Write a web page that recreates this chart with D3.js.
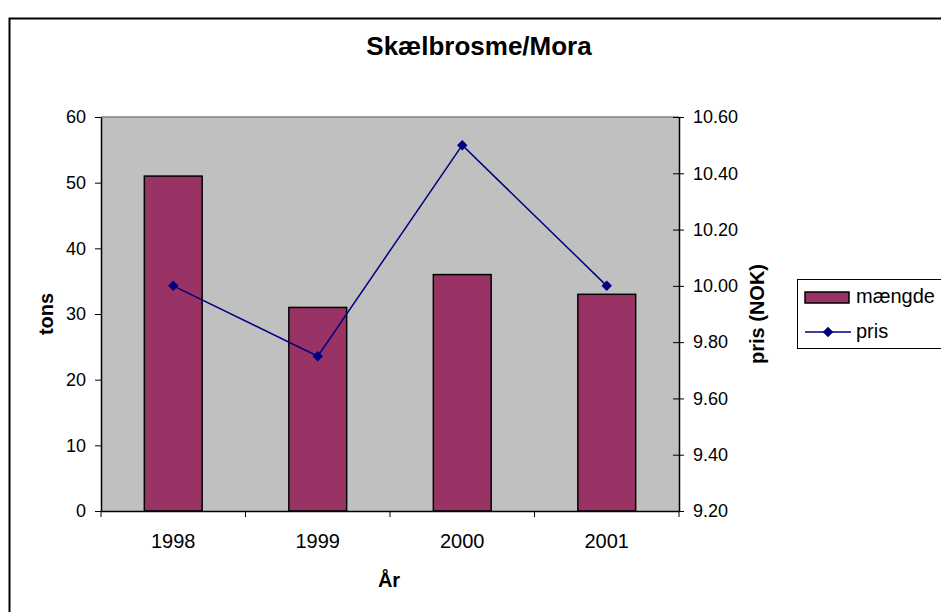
<!DOCTYPE html>
<html>
<head>
<meta charset="utf-8">
<script src="https://cdn.jsdelivr.net/npm/d3@7"></script>
<style>
  body { margin: 0; background: #fff; }
  svg { font-family: "Liberation Sans", Arial, sans-serif; }
</style>
</head>
<body>
<svg id="chart"></svg>
<script>
var width = 941,
  height = 612;

// data
var years = ['1998', '1999', '2000', '2001'];
var maengde = [51, 31, 36, 33];
var pris = [10.00, 9.75, 10.50, 10.00];
var tonsTicks = [0, 10, 20, 30, 40, 50, 60];
var prisTicks = [9.2, 9.4, 9.6, 9.8, 10.0, 10.2, 10.4, 10.6];

var plot = { left: 101, top: 117, right: 679, bottom: 511 };

var svg = d3.select('#chart')
  .attr('width', width)
  .attr('height', height);

// outer frame
svg.append('rect')
  .attr('x', 9.5)
  .attr('y', 18.5)
  .attr('width', 1000)
  .attr('height', 700)
  .attr('fill', '#fff')
  .attr('stroke', '#000')
  .attr('stroke-width', 2);

var x = d3.scaleBand()
  .domain(years)
  .range([plot.left, plot.right])
  .paddingInner(0.6)
  .paddingOuter(0.3);

var xCat = d3.scaleBand()
  .domain(years)
  .range([plot.left, plot.right]);

var yL = d3.scaleLinear()
  .domain([0, 60])
  .range([plot.bottom, plot.top]);

var yR = d3.scaleLinear()
  .domain([9.2, 10.6])
  .range([plot.bottom, plot.top]);

// plot area
svg.append('rect')
  .attr('x', plot.left)
  .attr('y', plot.top)
  .attr('width', plot.right - plot.left)
  .attr('height', plot.bottom - plot.top)
  .attr('fill', '#c0c0c0');

svg.append('line')
  .attr('x1', plot.left).attr('x2', plot.right)
  .attr('y1', plot.top).attr('y2', plot.top)
  .attr('stroke', '#808080')
  .attr('stroke-width', 1.5);

// bars
svg.append('g')
  .selectAll('rect')
  .data(maengde)
  .enter().append('rect')
  .attr('x', function(d, i) { return x(years[i]); })
  .attr('y', function(d) { return yL(d); })
  .attr('width', x.bandwidth())
  .attr('height', function(d) { return yL(0) - yL(d); })
  .attr('fill', '#993366')
  .attr('stroke', '#000')
  .attr('stroke-width', 1.5);

// left axis
var gL = svg.append('g')
  .attr('transform', 'translate(' + plot.left + ',0)')
  .call(d3.axisLeft(yL).tickValues(tonsTicks).tickSize(6).tickPadding(9).tickSizeOuter(0));

// right axis
var gR = svg.append('g')
  .attr('transform', 'translate(' + plot.right + ',0)')
  .call(d3.axisRight(yR).tickValues(prisTicks).tickSize(5).tickPadding(9).tickSizeOuter(0)
    .tickFormat(d3.format('.2f')));
gR.selectAll('.tick line').attr('x1', -6);

// bottom axis
var gB = svg.append('g')
  .attr('transform', 'translate(0,' + plot.bottom + ')')
  .call(d3.axisBottom(xCat).tickSize(0).tickPadding(23).tickSizeOuter(0));
gB.selectAll('.tick line').remove();
gB.selectAll('.sep')
  .data(d3.range(years.length + 1))
  .enter().append('line')
  .attr('class', 'sep')
  .attr('x1', function(i) { return plot.left + i * xCat.step(); })
  .attr('x2', function(i) { return plot.left + i * xCat.step(); })
  .attr('y1', 0)
  .attr('y2', 6)
  .attr('stroke', '#000');

[gL, gR, gB].forEach(function(g) {
  g.selectAll('text')
    .attr('font-size', 18)
    .attr('font-family', '"Liberation Sans", Arial, sans-serif')
    .attr('fill', '#000');
  g.select('.domain').attr('stroke', '#000').attr('stroke-width', 1.5);
});
gB.selectAll('text').attr('font-size', 20);

// price line
var line = d3.line()
  .x(function(d, i) { return xCat(years[i]) + xCat.bandwidth() / 2; })
  .y(function(d) { return yR(d); });

svg.append('path')
  .datum(pris)
  .attr('d', line)
  .attr('fill', 'none')
  .attr('stroke', '#000080')
  .attr('stroke-width', 1.5);

var diamond = d3.symbol().type(d3.symbolDiamond2).size(70);

svg.append('g')
  .selectAll('path')
  .data(pris)
  .enter().append('path')
  .attr('d', diamond)
  .attr('transform', function(d, i) {
    return 'translate(' + (xCat(years[i]) + xCat.bandwidth() / 2) + ',' + yR(d) + ')';
  })
  .attr('fill', '#000080');

// titles
svg.append('text')
  .attr('x', 479)
  .attr('y', 55)
  .attr('text-anchor', 'middle')
  .attr('font-size', 26)
  .attr('font-weight', 'bold')
  .text('Skælbrosme/Mora');

svg.append('text')
  .attr('x', 389)
  .attr('y', 587)
  .attr('text-anchor', 'middle')
  .attr('font-size', 20)
  .attr('font-weight', 'bold')
  .text('År');

svg.append('text')
  .attr('transform', 'translate(53,' + ((plot.top + plot.bottom) / 2) + ') rotate(-90)')
  .attr('text-anchor', 'middle')
  .attr('font-size', 20)
  .attr('font-weight', 'bold')
  .text('tons');

svg.append('text')
  .attr('transform', 'translate(764,' + ((plot.top + plot.bottom) / 2) + ') rotate(-90)')
  .attr('text-anchor', 'middle')
  .attr('font-size', 20)
  .attr('font-weight', 'bold')
  .text('pris (NOK)');

// legend
var lg = svg.append('g');
lg.append('rect')
  .attr('x', 797.5)
  .attr('y', 279.5)
  .attr('width', 200)
  .attr('height', 69)
  .attr('fill', '#fff')
  .attr('stroke', '#000')
  .attr('stroke-width', 1);

lg.append('rect')
  .attr('x', 805)
  .attr('y', 292)
  .attr('width', 44)
  .attr('height', 11)
  .attr('fill', '#993366')
  .attr('stroke', '#000')
  .attr('stroke-width', 1.5);

lg.append('text')
  .attr('x', 856)
  .attr('y', 303)
  .attr('font-size', 20)
  .text('mængde');

lg.append('line')
  .attr('x1', 805).attr('x2', 851)
  .attr('y1', 332).attr('y2', 332)
  .attr('stroke', '#000080')
  .attr('stroke-width', 1.5);

lg.append('path')
  .attr('d', diamond)
  .attr('transform', 'translate(828,332)')
  .attr('fill', '#000080');

lg.append('text')
  .attr('x', 856)
  .attr('y', 338)
  .attr('font-size', 20)
  .text('pris');
</script>
</body>
</html>
